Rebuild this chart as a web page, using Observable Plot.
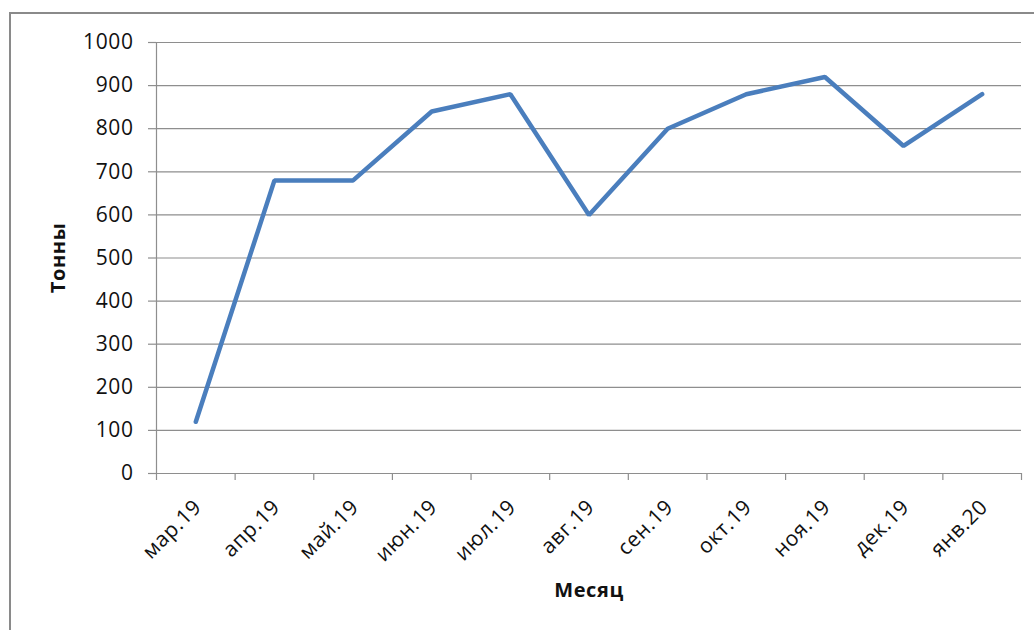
<!DOCTYPE html>
<html lang="ru">
<head>
<meta charset="utf-8">
<script src="https://cdn.jsdelivr.net/npm/d3@7"></script>
<script src="https://cdn.jsdelivr.net/npm/@observablehq/plot@0.6"></script>
<style>
  html, body { margin: 0; padding: 0; background: #fff; }
  #wrap { position: relative; width: 1034px; height: 630px; overflow: hidden; background: #fff; }
  #box { position: absolute; left: 9px; top: 12px; width: 1060px; height: 660px; border: 2px solid #8a8a8a; box-sizing: border-box; }
  #chart { position: absolute; left: 0; top: 0; }
  #chart text { letter-spacing: 0.6px; }
</style>
</head>
<body>
<div id="wrap">
  <div id="box"></div>
  <div id="chart"></div>
</div>
<script>
// Monthly volume, tonnes
const months = ["мар.19", "апр.19", "май.19", "июн.19", "июл.19", "авг.19", "сен.19", "окт.19", "ноя.19", "дек.19", "янв.20"];
const tonnes = [120, 680, 680, 840, 880, 600, 800, 880, 920, 760, 880];
const yTicks = [0, 100, 200, 300, 400, 500, 600, 700, 800, 900, 1000];
const yTitle = "Тонны";
const xTitle = "Месяц";

const rows = months.map((m, i) => ({i, month: m, value: tonnes[i]}));
// category boundaries carry the x tick marks
const bounds = d3.range(months.length + 1).map(k => k - 0.5);

const gridColor = "#8e8e8e";
const font = "'Open Sans', sans-serif";

const chart = Plot.plot({
  width: 1034,
  height: 630,
  marginLeft: 156,
  marginRight: 13,
  marginTop: 42,
  marginBottom: 157,
  style: {fontFamily: font, fontSize: "21px", color: "#111", background: "transparent"},
  x: {type: "linear", domain: [-0.5, months.length - 0.5]},
  y: {domain: [0, 1000]},
  marks: [
    Plot.gridY(yTicks, {stroke: gridColor, strokeOpacity: 1, strokeWidth: 1.2}),
    Plot.axisY(yTicks, {
      tickSize: 8, tickPadding: 15, stroke: gridColor, strokeWidth: 1.2, label: null,
      tickFormat: d => String(d), fontSize: 21, fontFamily: font
    }),
    Plot.ruleX([-0.5], {stroke: gridColor, strokeWidth: 1.2}),
    Plot.axisX(bounds, {tickSize: 7, tickFormat: () => "", stroke: gridColor, strokeWidth: 1.2, label: null}),
    Plot.text(rows, {
      x: "i", text: "month", frameAnchor: "bottom",
      rotate: -45, textAnchor: "end", lineAnchor: "middle",
      dx: 2, dy: 30, fontSize: 21, fontFamily: font
    }),
    Plot.line(rows, {x: "i", y: "value", stroke: "#4a7ebd", strokeWidth: 4.5, strokeLinejoin: "miter", strokeLinecap: "round"}),
    Plot.text([yTitle], {
      frameAnchor: "left", textAnchor: "middle", lineAnchor: "middle",
      dx: -98, rotate: -90, fontWeight: "bold", fontSize: 20, fontFamily: font
    }),
    Plot.text([xTitle], {
      frameAnchor: "bottom", textAnchor: "middle", lineAnchor: "middle",
      dy: 117, fontWeight: "bold", fontSize: 20, fontFamily: font
    })
  ]
});

document.getElementById("chart").appendChild(chart);
</script>
</body>
</html>
